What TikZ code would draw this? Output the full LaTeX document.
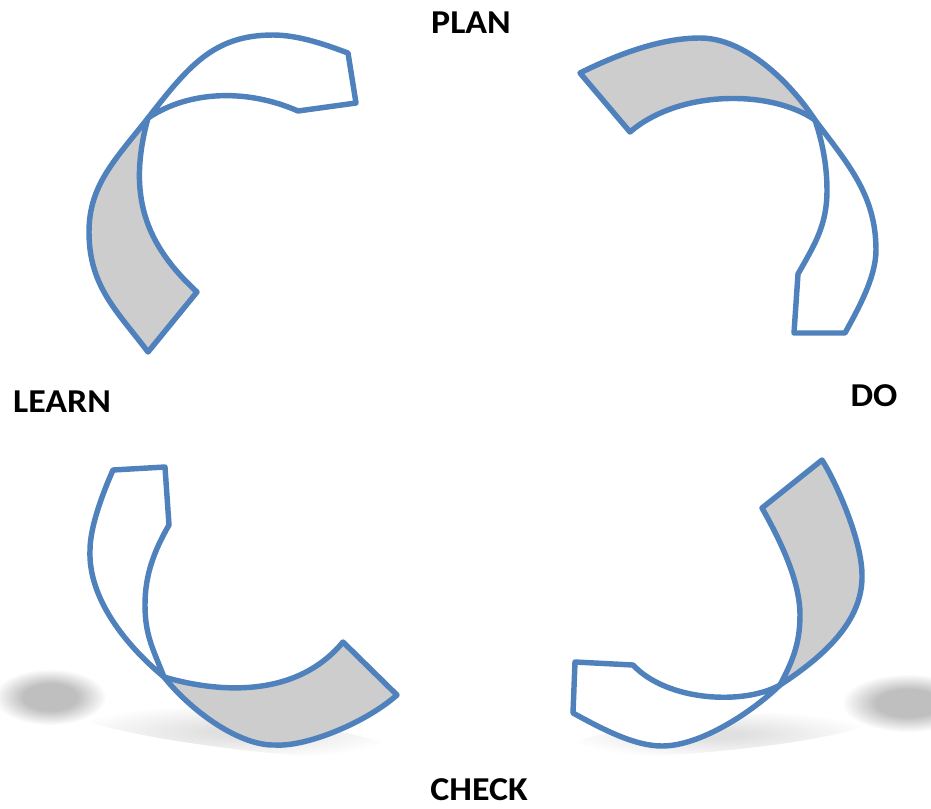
\documentclass[tikz,border=0pt]{standalone}
\usepackage{fontspec}
\setmainfont{Carlito}
\usetikzlibrary{fadings}
\definecolor{rblue}{HTML}{4F81BD}
\definecolor{rgray}{HTML}{CDCDCD}
\pgfdeclareradialshading{blobshade}{\pgfpointorigin}{color(0bp)=(white); color(12bp)=(white); color(25bp)=(black); color(50bp)=(black)}
\pgfdeclarefading{softblob}{\pgfuseshading{blobshade}}
\pgfdeclareradialshading{tailshade}{\pgfpointorigin}{color(0bp)=(white); color(4bp)=(white); color(25bp)=(black); color(50bp)=(black)}
\pgfdeclarefading{softtail}{\pgfuseshading{tailshade}}
\tikzset{
  ribbonline/.style={draw=rblue, line width=3.1pt, line join=round},
  backface/.style={ribbonline, fill=rgray},
  frontface/.style={ribbonline, fill=white},
  lbl/.style={font=\fontsize{19}{22}\selectfont\bfseries, inner sep=0pt, xscale=1.075},
  shadowblob/.style={fill=black, fill opacity=0.25, path fading=softblob},
  shadowtail/.style={fill=black, fill opacity=0.12, path fading=softtail}
}
\begin{document}
\begin{tikzpicture}[x=0.02cm, y=-0.02cm]
\useasboundingbox (0,0) rectangle (931,809);
% shadows
\path[shadowtail, rotate around={-7:(235,732)}] (235,732) ellipse [x radius=165, y radius=17];
\path[shadowblob] (50,697) ellipse [x radius=56, y radius=28];
\path[shadowtail, rotate around={5.5:(720,734)}] (720,734) ellipse [x radius=155, y radius=17];
\path[shadowblob] (908,703) ellipse [x radius=66, y radius=29];

% shape 1: top-left (LEARN -> PLAN)
\coordinate (x1) at (148,118);
\draw[backface] (148,352) .. controls (118,312) and (89,287) .. (89,232)
  .. controls (89,185) and (115,160) .. (x1)
  .. controls (127,195) and (145,244) .. (197,292) -- cycle;
\draw[frontface] (x1) .. controls (188,67) and (213,35) .. (273,35)
  .. controls (300,35) and (329,46) .. (348,53) -- (356,103) -- (298,111)
  .. controls (248,89) and (190,90) .. (x1) -- cycle;

% shape 2: top-right (PLAN -> DO)
\coordinate (x2) at (815,120);
\draw[backface] (580,73) .. controls (616,55) and (660,38) .. (700,38)
  .. controls (745,38) and (790,82) .. (x2)
  .. controls (772,90) and (680,89) .. (630,132) -- cycle;
\draw[frontface] (x2) .. controls (848,164) and (876,195) .. (876,250)
  .. controls (876,278) and (857,311) .. (845,333) -- (794,333) -- (798,274)
  .. controls (815,244) and (827,225) .. (827,190)
  .. controls (827,160) and (820,135) .. (x2) -- cycle;

% shape 3: bottom-left (CHECK -> LEARN)
\coordinate (x3) at (164,677);
\draw[frontface] (113,470) -- (165,467) -- (169,525)
  .. controls (154,551) and (145,575) .. (145,605)
  .. controls (145,635) and (153,649) .. (x3)
  .. controls (125.5,645) and (88,598) .. (90,550)
  .. controls (90,525) and (105,488) .. (113,470) -- cycle;
\draw[backface] (x3) .. controls (215,692) and (295,700) .. (343,642) -- (397,695)
  .. controls (364,724) and (305,747) .. (275,745)
  .. controls (240,746) and (192,712) .. (x3) -- cycle;

% shape 4: bottom-right (DO -> CHECK)
\coordinate (x4) at (780,685);
\draw[backface] (822,460) -- (762,508)
  .. controls (779,538) and (800,580) .. (800,615)
  .. controls (800,645) and (791.5,663) .. (x4)
  .. controls (826,655) and (863,620) .. (862,575)
  .. controls (862,540) and (835.5,481) .. (822,460) -- cycle;
\draw[frontface] (x4) .. controls (745,705) and (668,702) .. (633,665) -- (575,662) -- (573,713)
  .. controls (604,730) and (635,746) .. (662,746)
  .. controls (700,746) and (751,713) .. (x4) -- cycle;

% labels
\node[lbl] (plan) at (471,23) {PLAN};
\node[lbl] (do) at (874,396) {DO};
\node[lbl] (check) at (479,790) {CHECK};
\node[lbl] (learn) at (62,402) {LEARN};
\end{tikzpicture}
\end{document}
